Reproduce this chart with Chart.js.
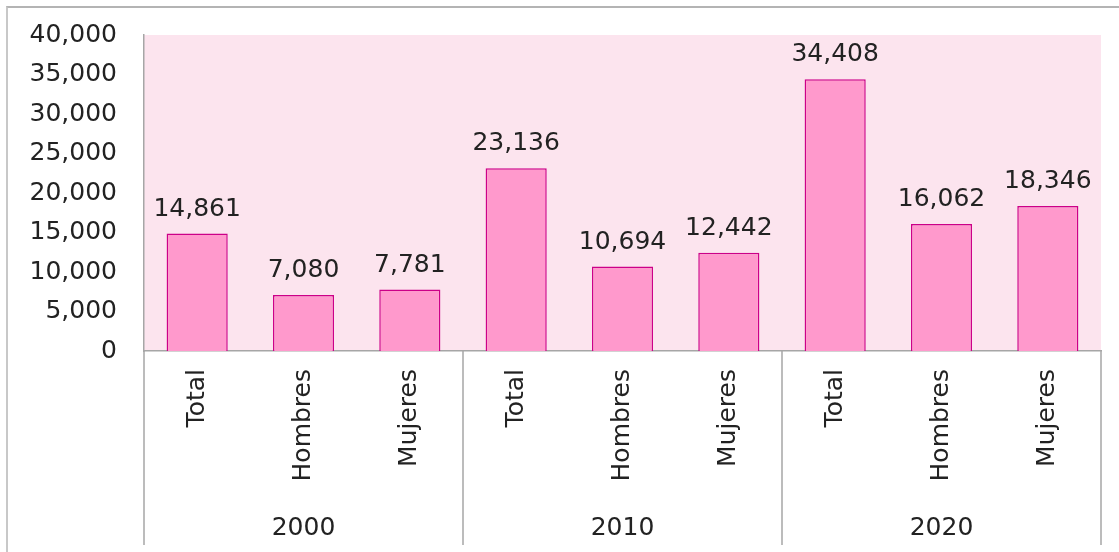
<!DOCTYPE html>
<html>
<head>
<meta charset="utf-8">
<script src="https://cdn.jsdelivr.net/npm/chart.js@4"></script>
<style>
  html, body { margin: 0; padding: 0; background: #fff; }
  #wrap { position: relative; width: 1119px; height: 552px; overflow: hidden; }
  #frame { position: absolute; left: 6px; top: 6px; width: 1200px; height: 600px;
           border-top: 2px solid #b4b4b4; border-left: 2px solid #c8c8c8; }
  canvas { position: absolute; left: 0; top: 0; }
</style>
</head>
<body>
<div id="wrap">
  <div id="frame"></div>
  <canvas id="canvas" width="1119" height="552"></canvas>
</div>
<script>
const categories = ["Total", "Hombres", "Mujeres", "Total", "Hombres", "Mujeres", "Total", "Hombres", "Mujeres"];
const years = ["2000", "2010", "2020"];
const values = [14861, 7080, 7781, 23136, 10694, 12442, 34408, 16062, 18346];
const yTicks = [0, 5000, 10000, 15000, 20000, 25000, 30000, 35000, 40000];

const FONT = "'DejaVu Sans', sans-serif";
const TEXT = "#222222";
const fmt = v => v.toLocaleString("en-US");

const plotBackground = {
  id: "plotBackground",
  beforeDraw(chart) {
    const { ctx, chartArea: a } = chart;
    ctx.save();
    ctx.fillStyle = "#fce4ee";
    ctx.fillRect(a.left, a.top, a.right - a.left, a.bottom - a.top);
    ctx.restore();
  }
};

const groupLines = {
  id: "groupLines",
  afterDraw(chart) {
    const { ctx } = chart;
    const x = chart.scales.x;
    const x2 = chart.scales.x2;
    const edges = [x.left];
    for (let i = 3; i < categories.length; i += 3) {
      edges.push((x.getPixelForValue(i - 1) + x.getPixelForValue(i)) / 2);
    }
    edges.push(x.right);
    ctx.save();
    ctx.strokeStyle = "#a6a6a6";
    ctx.lineWidth = 1.5;
    edges.forEach(px => {
      ctx.beginPath();
      ctx.moveTo(px, x.top);
      ctx.lineTo(px, x2.bottom);
      ctx.stroke();
    });
    ctx.restore();
  }
};

const valueLabels = {
  id: "valueLabels",
  afterDatasetsDraw(chart) {
    const { ctx } = chart;
    const meta = chart.getDatasetMeta(0);
    ctx.save();
    ctx.font = "25px " + FONT;
    ctx.fillStyle = TEXT;
    ctx.textAlign = "center";
    ctx.textBaseline = "alphabetic";
    meta.data.forEach((bar, i) => {
      ctx.fillText(fmt(values[i]), bar.x, bar.y - 18);
    });
    ctx.restore();
  }
};

const ctx = document.getElementById("canvas").getContext("2d");

new Chart(ctx, {
  type: "bar",
  data: {
    labels: categories,
    datasets: [
      {
        data: values,
        backgroundColor: "#ff99cc",
        borderColor: "#cc0088",
        borderWidth: 1.5,
        borderSkipped: "bottom",
        barPercentage: 0.575,
        categoryPercentage: 1
      }
    ]
  },
  options: {
    responsive: false,
    animation: false,
    layout: { padding: { top: 35, right: 18, left: 0, bottom: 7 } },
    plugins: {
      legend: { display: false },
      tooltip: { enabled: false }
    },
    scales: {
      y: {
        min: 0,
        max: 40000,
        afterBuildTicks: axis => { axis.ticks = yTicks.map(v => ({ value: v })); },
        ticks: {
          font: { family: FONT, size: 25 },
          color: TEXT,
          padding: 27,
          callback: v => fmt(v)
        },
        afterFit: axis => {
          axis.width = 144;
          axis.paddingTop = 0;
          axis.paddingBottom = 0;
        },
        grid: { display: false, drawTicks: false },
        border: { color: "#a6a6a6", width: 1.5 }
      },
      x: {
        ticks: {
          font: { family: FONT, size: 25 },
          color: TEXT,
          minRotation: 90,
          maxRotation: 90,
          padding: 18,
          autoSkip: false
        },
        afterFit: axis => {
          axis.height = 152;
          axis.paddingLeft = 0;
          axis.paddingRight = 0;
        },
        grid: { display: false, drawTicks: false },
        border: { color: "#a6a6a6", width: 1.5 }
      },
      x2: {
        type: "category",
        position: "bottom",
        labels: years,
        ticks: {
          font: { family: FONT, size: 25 },
          color: TEXT,
          padding: 10
        },
        afterFit: axis => {
          axis.height = 42;
          axis.paddingLeft = 0;
          axis.paddingRight = 0;
        },
        grid: { display: false, drawTicks: false },
        border: { display: false }
      }
    }
  },
  plugins: [plotBackground, groupLines, valueLabels]
});
</script>
</body>
</html>
